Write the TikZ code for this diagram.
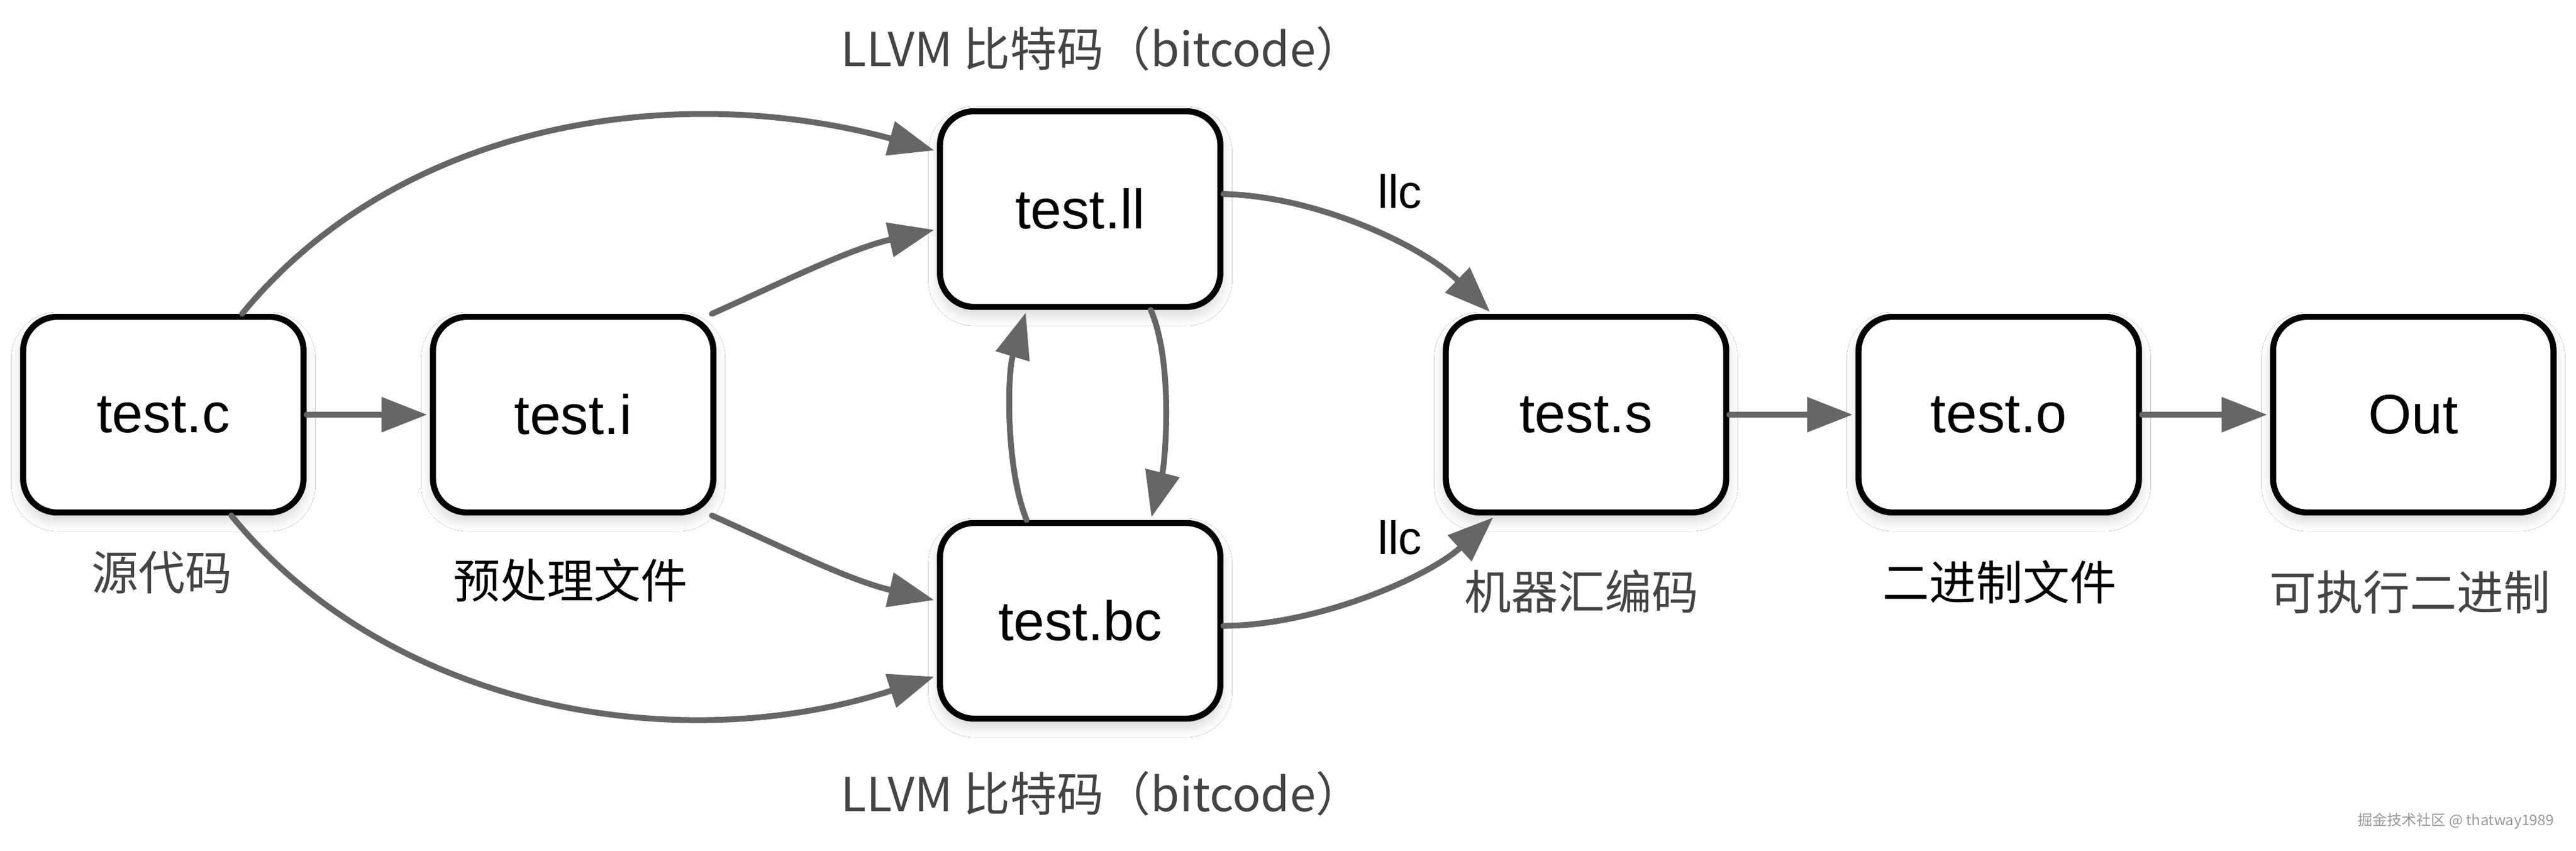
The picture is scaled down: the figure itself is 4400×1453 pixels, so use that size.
\documentclass[tikz,border=0pt]{standalone}
\usepackage{fontspec}
\setmainfont{Liberation Sans}
\newfontfamily\cjk{Noto Sans CJK SC}
\usetikzlibrary{arrows.meta,shadows.blur}
\definecolor{arrgray}{HTML}{666666}
\definecolor{lblgray}{HTML}{444444}
\begin{document}
\begin{tikzpicture}[x=0.25pt,y=-0.25pt,
  box/.style={draw=black, line width=2.6pt, rounded corners=14.5pt, fill=white,
    minimum width=119.75pt, minimum height=83.5pt, inner sep=0pt,
    font=\fontsize{23.75}{28}\selectfont,
    blur shadow={shadow xshift=0pt, shadow yshift=-3pt, shadow opacity=18, shadow blur radius=5pt, shadow blur steps=10}},
  lbl/.style={inner sep=0pt, font=\cjk\fontsize{20}{24}\selectfont, text=lblgray},
  lblk/.style={inner sep=0pt, font=\cjk\fontsize{20}{24}\selectfont, text=black},
  llc/.style={inner sep=0pt, font=\fontsize{20}{24}\selectfont, text=black},
  arr/.style={draw=arrgray, line width=2.5pt, line cap=round, shorten >=1.2pt,
    -{Triangle[length=19.5pt, width=14.5pt]}}]
\fill[white] (0,0) rectangle (4400,1453);
\useasboundingbox (0,0) rectangle (4400,1453);

% boxes
\node[box] (c)   at (279,708)  {\raisebox{-1pt}{test.c}};
\node[box] (i)   at (979,708)  {\raisebox{-1pt}{test.i}};
\node[box] (ll)  at (1845,357) {\raisebox{-1pt}{test.ll}};
\node[box] (bc)  at (1845,1060) {\raisebox{-1pt}{test.bc}};
\node[box] (s)   at (2709,708) {\raisebox{-1pt}{test.s}};
\node[box] (o)   at (3414,708) {\raisebox{-1pt}{test.o}};
\node[box] (out) at (4122,708) {\raisebox{-1pt}{Out}};

% labels
\node[lbl]  (l1) at (276,978)  {源代码};
\node[lblk] (l2) at (974,991)  {预处理文件};
\node[lbl]  (l3) at (1882,83)  {LLVM 比特码（bitcode）};
\node[lbl]  (l4) at (1882,1355) {LLVM 比特码（bitcode）};
\node[llc]  (l5) at (2391,327) {llc};
\node[llc]  (l6) at (2391,918) {llc};
\node[lbl]  (l7) at (2701,1010) {机器汇编码};
\node[lblk] (l8) at (3415,994) {二进制文件};
\node[lbl]  (l9) at (4116,1011) {可执行二进制};
\node[inner sep=0pt, font=\cjk\fontsize{6.25}{7}\selectfont, text=gray!80] (wm) at (4195,1402) {掘金技术社区 @ thatway1989};

% connectors
\draw[arr] (c.east) -- (i.west);
\draw[arr] (c.52) .. controls (680,210) and (1150,135) .. (ll.158);
\draw[arr] (i.36) .. controls (1330,485) and (1450,425) .. (ll.188);
\draw[arr] (i.324) .. controls (1330,931) and (1450,991) .. (bc.172);
\draw[arr] (c.304) .. controls (660,1206) and (1150,1300) .. (bc.201);
\draw[arr] (ll.305) .. controls (2005,620) and (1990,790) .. (bc.55);
\draw[arr] (bc.118) .. controls (1718,800) and (1720,640) .. (ll.242);
\draw[arr] (ll.6) .. controls (2250,335) and (2430,420) .. (s.133);
\draw[arr] (bc.358) .. controls (2250,1068) and (2440,985) .. (s.228);
\draw[arr] (s.east) -- (o.west);
\draw[arr] (o.east) -- (out.west);
\end{tikzpicture}
\end{document}
